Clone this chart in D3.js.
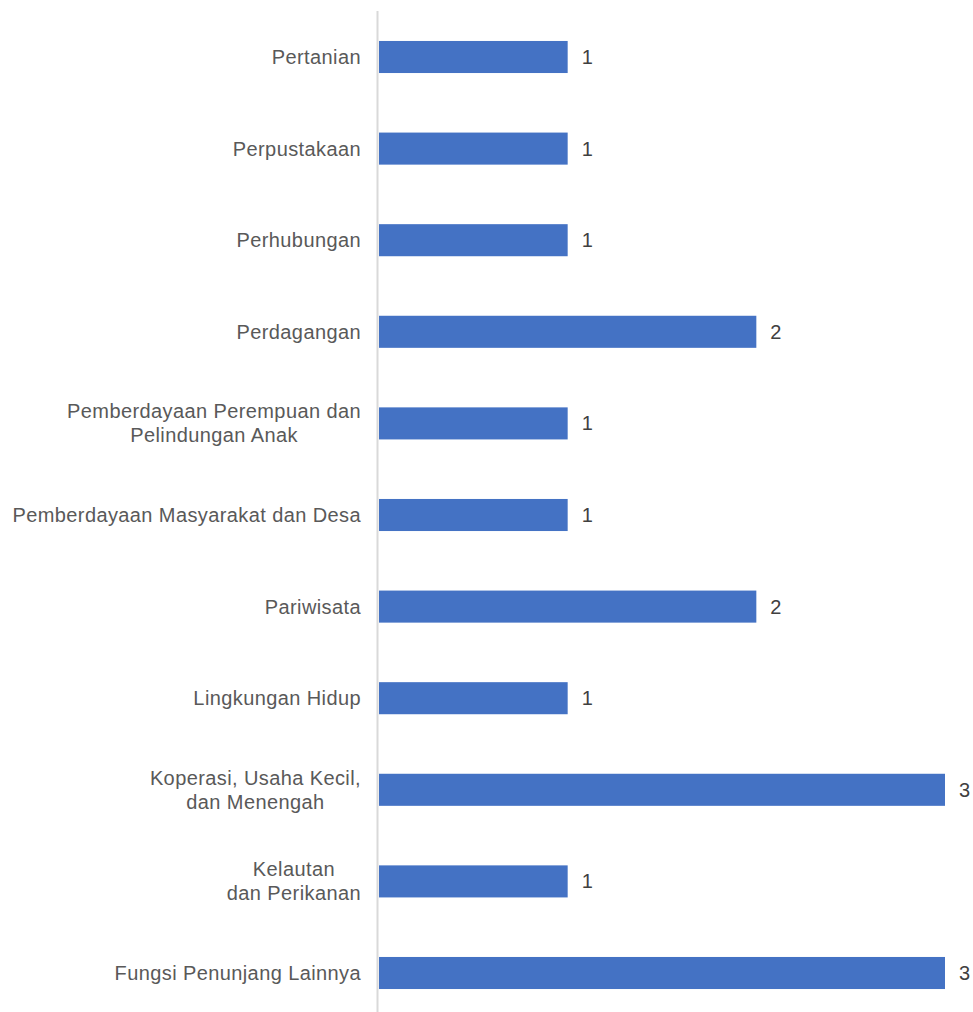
<!DOCTYPE html>
<html>
<head>
<meta charset="utf-8">
<script src="https://cdn.jsdelivr.net/npm/d3@7/dist/d3.min.js"></script>
<style>
  html, body { margin: 0; padding: 0; background: #fff; }
  svg { display: block; }
</style>
</head>
<body>
<svg id="chart" width="973" height="1012"></svg>
<script>
// Category labels (multi-line labels split into lines) and their counts
const categories = [
  ["Pertanian"],
  ["Perpustakaan"],
  ["Perhubungan"],
  ["Perdagangan"],
  ["Pemberdayaan Perempuan dan", "Pelindungan Anak"],
  ["Pemberdayaan Masyarakat dan Desa"],
  ["Pariwisata"],
  ["Lingkungan Hidup"],
  ["Koperasi, Usaha Kecil,", "dan Menengah"],
  ["Kelautan", "dan Perikanan"],
  ["Fungsi Penunjang Lainnya"]
];
const values = [1, 1, 1, 2, 1, 1, 2, 1, 3, 1, 3];

const W = 973, H = 1012;
const svg = d3.select("#chart");
const font = "'Liberation Sans', Arial, sans-serif";

const keys = categories.map((c, i) => i);

const y = d3.scaleBand()
  .domain(keys)
  .range([11.2, 1018.8])
  .paddingInner(0.65)
  .paddingOuter(0.325);

const x = d3.scaleLinear()
  .domain([0, 3])
  .range([379, 945]);

// Bars
svg.append("g")
  .selectAll("rect")
  .data(values)
  .join("rect")
  .attr("x", x(0))
  .attr("y", (d, i) => y(i))
  .attr("width", d => x(d) - x(0))
  .attr("height", y.bandwidth())
  .attr("fill", "#4472c4");

// Vertical category axis line
svg.append("line")
  .attr("x1", 377.5).attr("x2", 377.5)
  .attr("y1", 11).attr("y2", H)
  .attr("stroke", "#d9d9d9")
  .attr("stroke-width", 2);

// Category labels: block right-aligned at the axis, lines centred within block
const labelG = svg.append("g")
  .attr("font-family", font)
  .attr("font-size", 20)
  .attr("letter-spacing", 0.4)
  .attr("fill", "#595959");

const lineH = 24;
categories.forEach((lines, i) => {
  const cy = y(i) + y.bandwidth() / 2;
  const widths = lines.map(l => {
    const s = labelG.append("text").text(l);
    const w = s.node().getComputedTextLength();
    s.remove();
    return w;
  });
  const blockW = d3.max(widths);
  const cx = 361 - blockW / 2;
  const t = labelG.append("text").attr("text-anchor", "middle");
  lines.forEach((l, j) => {
    t.append("tspan")
      .attr("x", cx)
      .attr("y", cy + 7 + (j - (lines.length - 1) / 2) * lineH)
      .text(l);
  });
});

// Value labels
svg.append("g")
  .attr("font-family", font)
  .attr("font-size", 20)
  .attr("fill", "#404040")
  .selectAll("text")
  .data(values)
  .join("text")
  .attr("x", d => x(d) + 14)
  .attr("y", (d, i) => y(i) + y.bandwidth() / 2 + 7)
  .text(d => d);
</script>
</body>
</html>
